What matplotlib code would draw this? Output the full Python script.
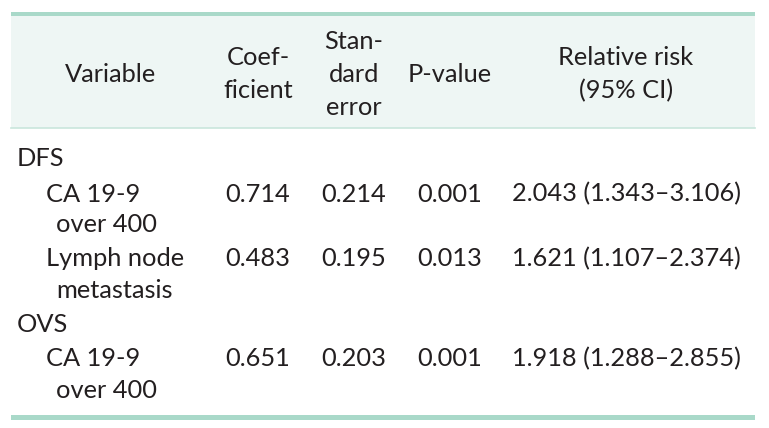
import matplotlib
matplotlib.use("Agg")
import matplotlib.pyplot as plt
from matplotlib.patches import Rectangle

# ---- data ----
headers = [["Variable"], ["Coef-", "ficient"], ["Stan-", "dard", "error"], ["P-value"], ["Relative risk", "(95% CI)"]]
groups = ["DFS", "DFS", "OVS"]
variables = [["CA 19-9", "over 400"], ["Lymph node", "metastasis"], ["CA 19-9", "over 400"]]
coefficients = ["0.714", "0.483", "0.651"]
std_errors = ["0.214", "0.195", "0.203"]
p_values = ["0.001", "0.013", "0.001"]
relative_risk = ["2.043", "1.621", "1.918"]
ci_low = ["1.343", "1.107", "1.288"]
ci_high = ["3.106", "2.374", "2.855"]

# ---- layout ----
W, H = 769, 428
fig = plt.figure(figsize=(W / 100, H / 100), dpi=100)
ax = fig.add_axes([0, 0, 1, 1])
ax.set_xlim(0, W)
ax.set_ylim(H, 0)
ax.axis("off")

FONT = "Lato"
FS = 18.3
TXT = "#231f20"
LINE = "#a9d9c9"
BG = "#eef6f4"
THIN = "#c9e6dc"

left, right = 11, 755
# header background
ax.add_patch(Rectangle((left, 14), right - left, 114, facecolor=BG, edgecolor="none", zorder=0))
# top thick line
ax.add_patch(Rectangle((left, 11.5), right - left, 4, facecolor=LINE, edgecolor="none", zorder=1))
# thin line below header
ax.plot([left, right], [128, 128], color=THIN, lw=1.2, zorder=1)
# bottom thick line
ax.add_patch(Rectangle((left, 415), right - left, 4.5, facecolor=LINE, edgecolor="none", zorder=1))

col_x = [111, 258, 354, 450, 626]
line_gap = 33
header_center = 72
for cx, lines in zip(col_x, headers):
    n = len(lines)
    for i, t in enumerate(lines):
        y = header_center + (i - (n - 1) / 2) * line_gap
        ax.text(cx, y, t, ha="center", va="center_baseline", fontsize=FS, family=FONT, color=TXT)

def put(x, y, s, ha="left"):
    ax.text(x, y, s, ha=ha, va="center_baseline", fontsize=FS, family=FONT, color=TXT)

group_y = {"DFS": 157, "OVS": 323}
row_y = [(192, 222), (257, 288), (357, 388)]
for g, yy in group_y.items():
    put(17, yy, g)

for i in range(len(variables)):
    y1, y2 = row_y[i]
    put(46, y1, variables[i][0])
    put(56, y2, variables[i][1])
    put(col_x[1], y1, coefficients[i], "center")
    put(col_x[2], y1, std_errors[i], "center")
    put(col_x[3], y1, p_values[i], "center")
    put(col_x[4], y1, f"{relative_risk[i]} ({ci_low[i]}\u2013{ci_high[i]})", "center")

fig.savefig("out.png", dpi=100, facecolor="white")
